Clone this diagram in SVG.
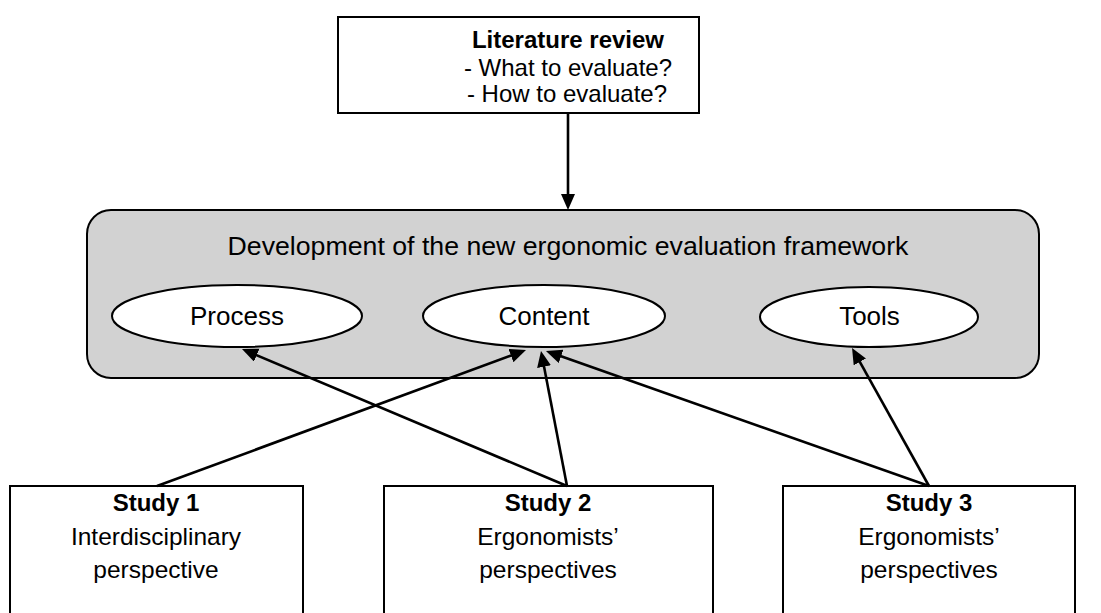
<svg xmlns="http://www.w3.org/2000/svg" width="1101" height="613" viewBox="0 0 1101 613">
  <style>
    .box { fill: #ffffff; stroke: #000000; stroke-width: 2; }
    .frame { fill: #d2d2d2; stroke: #000000; stroke-width: 2; }
    .ell { fill: #ffffff; stroke: #000000; stroke-width: 2; }
    .t { font-family: "Liberation Sans", Arial, sans-serif; fill: #000000; text-anchor: middle; }
    .b { font-weight: bold; }
    .conn { stroke: #000000; stroke-width: 2.6; fill: none; marker-end: url(#arr); }
  </style>
  <defs>
    <marker id="arr" markerUnits="userSpaceOnUse" markerWidth="18" markerHeight="16" refX="6" refY="7" orient="auto">
      <path d="M0,0 L16,7 L0,14 Z" fill="#000000"/>
    </marker>
  </defs>

  <g id="literature-review">
    <rect class="box" x="338" y="17" width="361" height="96"/>
    <text class="t b" x="568" y="48" font-size="24">Literature review</text>
    <text class="t" x="568" y="76" font-size="24">- What to evaluate?</text>
    <text class="t" x="567" y="102" font-size="24">- How to evaluate?</text>
  </g>

  <g id="framework">
    <rect class="frame" x="87" y="210" width="952" height="168" rx="24" ry="24"/>
    <text class="t" x="568" y="255" font-size="26.7">Development of the new ergonomic evaluation framework</text>
  </g>

  <g id="process">
    <ellipse class="ell" cx="237" cy="316" rx="125" ry="31"/>
    <text class="t" x="237" y="325" font-size="26">Process</text>
  </g>

  <g id="content">
    <ellipse class="ell" cx="544" cy="316" rx="121" ry="31"/>
    <text class="t" x="544" y="325" font-size="26">Content</text>
  </g>

  <g id="tools">
    <ellipse class="ell" cx="869" cy="317" rx="109" ry="30"/>
    <text class="t" x="869.5" y="325" font-size="26">Tools</text>
  </g>

  <g id="study1">
    <rect class="box" x="10" y="486" width="293" height="140"/>
    <text class="t b" x="156" y="511" font-size="24">Study 1</text>
    <text class="t" x="156" y="545" font-size="24.5">Interdisciplinary</text>
    <text class="t" x="156" y="578" font-size="24.5">perspective</text>
  </g>

  <g id="study2">
    <rect class="box" x="384" y="486" width="329" height="140"/>
    <text class="t b" x="548" y="511" font-size="24">Study 2</text>
    <text class="t" x="548" y="545" font-size="24.5">Ergonomists’</text>
    <text class="t" x="548" y="578" font-size="24.5">perspectives</text>
  </g>

  <g id="study3">
    <rect class="box" x="783" y="486" width="292" height="140"/>
    <text class="t b" x="929" y="511" font-size="24">Study 3</text>
    <text class="t" x="929" y="545" font-size="24.5">Ergonomists’</text>
    <text class="t" x="929" y="578" font-size="24.5">perspectives</text>
  </g>

  <g id="connectors">
    <line class="conn" x1="568" y1="113" x2="568" y2="200"/>
    <line class="conn" x1="157" y1="486" x2="516.6" y2="353.5"/>
    <line class="conn" x1="567" y1="486" x2="251.2" y2="352.9"/>
    <line class="conn" x1="567" y1="486" x2="542.9" y2="360.8"/>
    <line class="conn" x1="929" y1="486" x2="555.4" y2="354.3"/>
    <line class="conn" x1="929" y1="486" x2="856.9" y2="356.7"/>
  </g>
</svg>
